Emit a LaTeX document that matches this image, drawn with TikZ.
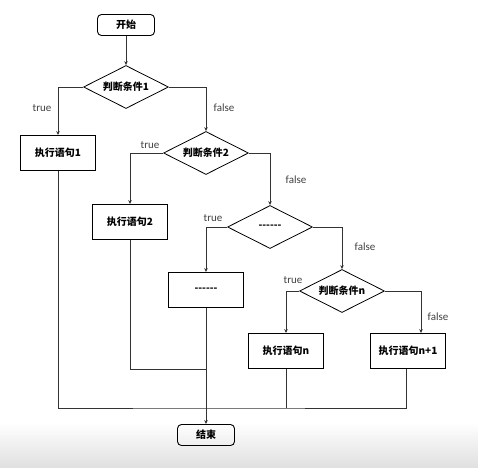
\documentclass[tikz,border=0pt]{standalone}
\usepackage{fontspec}
\setmainfont{Carlito}
\newfontfamily\cjk{Noto Sans CJK SC}
\usetikzlibrary{positioning, shapes.geometric, arrows.meta}

\begin{document}
\begin{tikzpicture}[
  x=1pt, y=1pt,
  >={Stealth[length=4pt, width=3.5pt]},
  every node/.style={font=\cjk\bfseries\fontsize{10}{12}\selectfont},
  term/.style={draw, rounded corners=4pt, line width=0.9pt, minimum width=57pt, minimum height=21pt},
  stmt/.style={draw, line width=0.9pt, minimum width=75pt, minimum height=35pt},
  cond/.style={draw, diamond, aspect=2, inner sep=1pt, line width=0.8pt, minimum width=85pt, minimum height=43pt},
  lbl/.style={font=\fontsize{11}{13}\selectfont, text=black!75},
  flow/.style={line width=0.8pt, black!80}
]
\useasboundingbox (0,0) rectangle (478,467);
\shade[top color=white, bottom color=black!12] (0,0) rectangle (478,45);

% Start
\node[term] (start) at (126, 442) {开始};

% Conditions
\node[cond] (d1) at (126, 380) {判断条件1};
\node[cond] (d2) at (206, 314) {判断条件2};
\node[cond] (d3) at (270, 240) {------};
\node[cond] (dn) at (342, 176) {判断条件n};

% Statements
\node[stmt] (b1) at (58, 314) {执行语句1};
\node[stmt] (b2) at (130, 245) {执行语句2};
\node[stmt] (b3) at (206, 177) {------};
\node[stmt] (bn) at (286, 116) {执行语句n};
\node[stmt] (bn1) at (408, 116) {执行语句n+1};

% End
\node[term] (end) at (206, 32) {结束};
\coordinate (m2) at (206, 98);
\coordinate (m1) at (206, 59);

% Branches
\draw[flow, ->] (start) -- (d1);
\draw[flow, ->] (d1.west) -| (b1);
\draw[flow, ->] (d1.east) -| (d2);
\draw[flow, ->] (d2.west) -| (b2);
\draw[flow, ->] (d2.east) -| (d3);
\draw[flow, ->] (d3.west) -| (b3);
\draw[flow, ->] (d3.east) -| (dn);
\draw[flow, ->] (dn.west) -| (bn);
\draw[flow, ->] (dn.east) -| ([xshift=13pt]bn1.north);

% Merge to end
\draw[flow, ->] (b3) -- (end);
\draw[flow] (b2) |- (m2);
\draw[flow] (b1) |- (m1) -| ([xshift=-2pt]bn1.south);
\draw[flow] (bn) -- (bn |- m1);

% Labels
\node[lbl] (t1) at (42, 359) {true};
\node[lbl] (f1) at (224, 359) {false};
\node[lbl] (t2) at (150, 322) {true};
\node[lbl] (f2) at (296, 287) {false};
\node[lbl] (t3) at (213, 249) {true};
\node[lbl] (f3) at (365, 220) {false};
\node[lbl] (tn) at (293, 187) {true};
\node[lbl] (fn) at (438, 150) {false};

\end{tikzpicture}
\end{document}
